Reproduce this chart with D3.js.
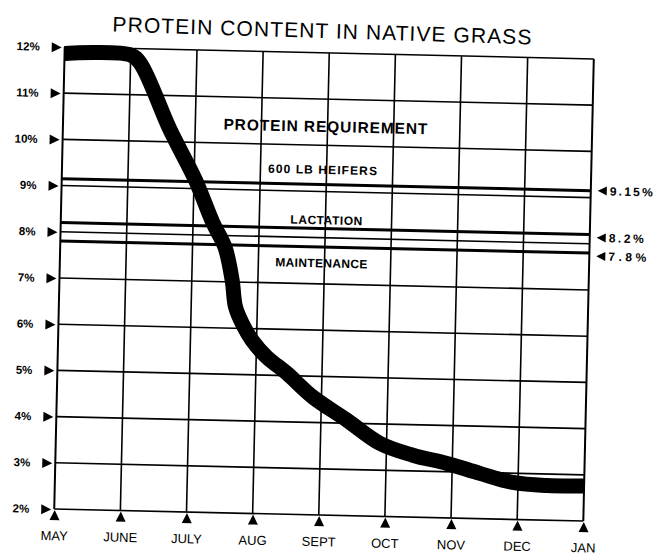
<!DOCTYPE html>
<html>
<head>
<meta charset="utf-8">
<script src="https://cdn.jsdelivr.net/npm/d3@7"></script>
<style>
  body { margin: 0; background: #fff; }
  svg { display: block; font-family: "Liberation Sans", Arial, sans-serif; }
</style>
</head>
<body>
<div id="chart"></div>
<script>
// Month ticks along the bottom
const months = ['MAY', 'JUNE', 'JULY', 'AUG', 'SEPT', 'OCT', 'NOV', 'DEC', 'JAN'];
// Percent ticks on the left
const percentTicks = [2, 3, 4, 5, 6, 7, 8, 9, 10, 11, 12];

// Protein content curve (month index from MAY, percent)
const curveMonth = [0, 1.0, 1.15, 1.62, 2.02, 2.30, 2.49, 2.61, 2.67, 2.78, 2.93, 3.16, 3.47, 3.87, 4.39, 4.90, 5.40, 5.92, 6.42, 6.92, 7.44, 8.0];
const curveProtein = [11.86, 11.86, 11.68, 10.26, 9.19, 8.27, 7.75, 7.04, 6.46, 6.10, 5.75, 5.39, 5.05, 4.55, 4.07, 3.58, 3.34, 3.18, 2.98, 2.80, 2.75, 2.76];

// Protein requirement levels
const reqNames = ['600 LB HEIFERS', 'LACTATION', 'MAINTENANCE'];
const reqValues = [9.15, 8.2, 7.8];
const reqLabels = ['9.15%', '8.2%', '7.8%'];

const W = 653, H = 556;
const margin = { top: 52.8, left: 59.5 };
const width = 529.2;
const height = 462.2;

const svg = d3.select('#chart')
    .append('svg')
    .attr('width', W)
    .attr('height', H);

// Title (the scan is slightly tilted)
svg.append('text')
    .attr('x', 322)
    .attr('y', 38)
    .attr('transform', 'rotate(1.75 322 30)')
    .attr('text-anchor', 'middle')
    .attr('font-size', 21)
    .attr('textLength', 419)
    .attr('lengthAdjust', 'spacing')
    .text('PROTEIN CONTENT IN NATIVE GRASS');

// Whole chart is tilted a little like the scanned page
const page = svg.append('g')
    .attr('transform', 'rotate(1.3 320 280)');

const g = page.append('g')
    .attr('transform', `translate(${margin.left},${margin.top})`);

const x = d3.scaleLinear().domain([0, months.length - 1]).range([0, width]);
const y = d3.scaleLinear().domain([2, 12]).range([height, 0]);

// Grid lines
g.append('g')
    .selectAll('line')
    .data(percentTicks)
    .enter()
    .append('line')
    .attr('x1', 0)
    .attr('x2', width)
    .attr('y1', d => y(d))
    .attr('y2', d => y(d))
    .attr('stroke', '#000')
    .attr('stroke-width', 1.6);

g.append('g')
    .selectAll('line')
    .data(d3.range(months.length))
    .enter()
    .append('line')
    .attr('x1', d => x(d))
    .attr('x2', d => x(d))
    .attr('y1', 0)
    .attr('y2', height)
    .attr('stroke', '#000')
    .attr('stroke-width', d => (d === 0 || d === months.length - 1) ? 2 : 1.6);

// Requirement lines
g.append('g')
    .selectAll('line')
    .data(reqValues)
    .enter()
    .append('line')
    .attr('x1', 0)
    .attr('x2', width)
    .attr('y1', d => y(d))
    .attr('y2', d => y(d))
    .attr('stroke', '#000')
    .attr('stroke-width', 3);

// Requirement text
const noteFont = [15.5, 12, 12, 12];
const noteText = ['PROTEIN REQUIREMENT'].concat(reqNames);
const noteAt = [10.29, 9.38, 8.29, 7.36];
const noteLen = [204, 109, 72, 92];
const noteX = [322, 320, 325, 321];
g.append('g')
    .selectAll('text')
    .data(noteText)
    .enter()
    .append('text')
    .attr('x', (d, i) => noteX[i] - margin.left)
    .attr('y', (d, i) => y(noteAt[i]))
    .attr('text-anchor', 'middle')
    .attr('font-weight', 'bold')
    .attr('font-size', (d, i) => noteFont[i])
    .attr('textLength', (d, i) => noteLen[i])
    .attr('lengthAdjust', 'spacing')
    .text(d => d);

// Right side requirement labels with arrows
const right = g.append('g').attr('transform', `translate(${width},0)`);
right.selectAll('path')
    .data(reqValues)
    .enter()
    .append('path')
    .attr('d', (d, i) => {
        const yy = y(d) + (i === 0 ? 0 : 3);
        return `M7,${yy} L16,${yy - 4.5} L16,${yy + 4.5} Z`;
    })
    .attr('fill', '#000');
right.selectAll('text')
    .data(reqLabels)
    .enter()
    .append('text')
    .attr('x', 19)
    .attr('y', (d, i) => y(reqValues[i]) + (i === 0 ? 0 : 3))
    .attr('dy', '0.36em')
    .attr('font-weight', 'bold')
    .attr('font-size', 12)
    .attr('textLength', (d, i) => [43, 35, 38][i])
    .attr('lengthAdjust', 'spacing')
    .text(d => d);

// Protein content curve
const line = d3.line()
    .x(d => x(d[0]))
    .y(d => y(d[1]))
    .curve(d3.curveCatmullRom.alpha(0.5));

g.append('path')
    .datum(curveMonth.map((m, i) => [m, curveProtein[i]]))
    .attr('d', line)
    .attr('fill', 'none')
    .attr('stroke', '#000')
    .attr('stroke-width', 15)
    .attr('stroke-linejoin', 'round');

// Left axis: labels and arrows
const yAxis = g.append('g')
    .call(d3.axisLeft(y).tickValues(percentTicks).tickFormat(d => d + '%').tickSize(0).tickPadding(25));
yAxis.select('.domain').remove();
yAxis.selectAll('text')
    .attr('font-family', '"Liberation Sans", Arial, sans-serif')
    .attr('font-size', 11.5)
    .attr('font-weight', 'bold')
    .attr('fill', '#000');
yAxis.selectAll('.tick')
    .append('path')
    .attr('d', 'M-13,-5 L-3,0 L-13,5 Z')
    .attr('fill', '#000');

// Bottom axis: month labels and arrows
const xAxis = g.append('g')
    .attr('transform', `translate(0,${height})`)
    .call(d3.axisBottom(x).tickValues(d3.range(months.length)).tickFormat(i => months[i]).tickSize(0).tickPadding(22));
xAxis.select('.domain').remove();
xAxis.selectAll('text')
    .attr('font-family', '"Liberation Sans", Arial, sans-serif')
    .attr('font-size', 13)
    .attr('fill', '#000');
xAxis.selectAll('.tick')
    .append('path')
    .attr('d', 'M0,1 L5,11 L-5,11 Z')
    .attr('fill', '#000');
</script>
</body>
</html>
